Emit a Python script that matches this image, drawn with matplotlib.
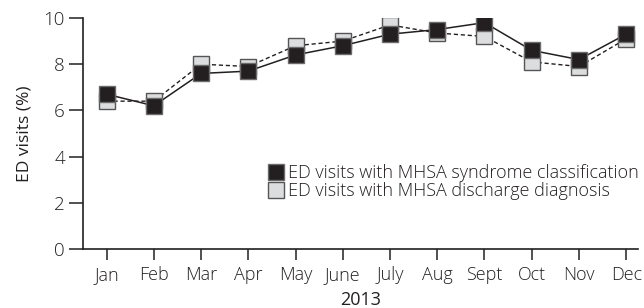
import matplotlib
matplotlib.use("Agg")
import matplotlib.pyplot as plt
from matplotlib.lines import Line2D

months = ["Jan", "Feb", "Mar", "Apr", "May", "June", "July", "Aug", "Sept", "Oct", "Nov", "Dec"]
syndrome = [6.7, 6.2, 7.6, 7.7, 8.4, 8.8, 9.3, 9.5, 9.8, 8.6, 8.2, 9.3]
discharge = [6.4, 6.4, 8.0, 7.9, 8.8, 9.0, 9.7, 9.35, 9.2, 8.1, 7.9, 9.1]
yticks = [0, 2, 4, 6, 8, 10]

INK = "#231f20"
GREY = "#dcdddf"

plt.rcParams["font.family"] = ["Open Sans", "DejaVu Sans"]
plt.rcParams["font.weight"] = 300

fig = plt.figure(figsize=(6.44, 3.08), dpi=100)
ax = fig.add_axes([83 / 644, 59 / 308, 555 / 644, 231 / 308])

x = list(range(len(months)))
ax.plot(x, discharge, color=INK, lw=1.0, ls=(0, (3, 2)), marker="s", ms=12,
        mfc=GREY, mec="#555555", mew=1.0, zorder=3)
ax.plot(x, syndrome, color=INK, lw=1.1, marker="s", ms=12,
        mfc=INK, mec="#6b6b6b", mew=1.0, zorder=4)

ax.set_xlim(-0.5, 11.25)
ax.set_ylim(0, 10)
ax.set_yticks(yticks)
ax.set_xticks(x)
ax.set_xticklabels(months)

for side in ["top", "right"]:
    ax.spines[side].set_visible(False)
for side in ["left", "bottom"]:
    ax.spines[side].set_color(INK)
    ax.spines[side].set_linewidth(1.2)

ax.tick_params(axis="y", length=10, width=1.1, color=INK, labelsize=13.5, labelcolor=INK, pad=3)
ax.tick_params(axis="x", length=8, width=1.1, color=INK, labelsize=13, labelcolor=INK, pad=4)

ax.set_xlabel("2013", fontsize=13, color=INK, labelpad=5)
ax.set_ylabel("ED visits (%)", fontsize=12.5, color=INK, labelpad=8)

handles = [
    Line2D([], [], ls="none", marker="s", ms=11.5, mfc=INK, mec="#6b6b6b", mew=1.0),
    Line2D([], [], ls="none", marker="s", ms=11.5, mfc=GREY, mec="#555555", mew=1.0),
]
labels = ["ED visits with MHSA syndrome classification", "ED visits with MHSA discharge diagnosis"]
ax.legend(handles, labels, loc="lower right", bbox_to_anchor=(1.015, 0.18), frameon=False,
          fontsize=13, handlelength=0.8, handletextpad=0.3, labelspacing=0.0,
          borderaxespad=0, labelcolor=INK)

fig.savefig("out.png", dpi=100)
